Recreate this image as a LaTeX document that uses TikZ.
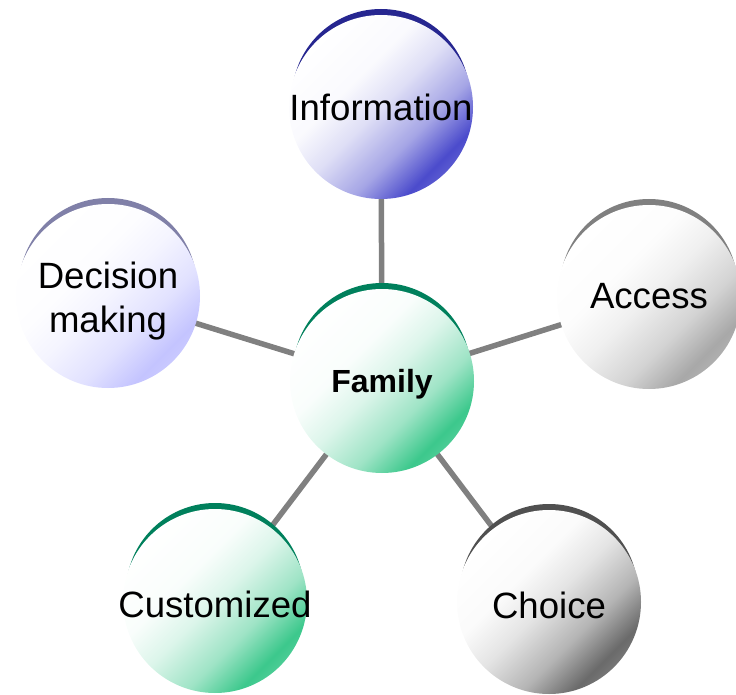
\documentclass[tikz,border=0pt]{standalone}
\usepackage{fontspec}
\setmainfont{Liberation Sans}
\usetikzlibrary{calc}
\pgfdeclarelayer{bg}
\pgfdeclarelayer{mid}
\pgfsetlayers{bg,mid,main}

\definecolor{infoC}{HTML}{4B4BCC}
\definecolor{infoR}{HTML}{262690}
\definecolor{famC}{HTML}{3CC88C}
\definecolor{famR}{HTML}{00805C}
\definecolor{choC}{HTML}{6A6A6A}
\definecolor{choR}{HTML}{505050}
\definecolor{accC}{HTML}{A8A8A8}
\definecolor{accR}{HTML}{808080}
\definecolor{decC}{HTML}{C4C4FF}
\definecolor{decR}{HTML}{8080A8}
\definecolor{linkC}{HTML}{808080}

\newcommand{\mkshade}[2]{%
  \pgfdeclarehorizontalshading{#1}{100bp}{color(0bp)=(white); color(25bp)=(white);
    color(40bp)=(#2!3!white); color(50bp)=(#2!18!white); color(62bp)=(#2!50!white);
    color(72bp)=(#2); color(75bp)=(#2!92!white); color(100bp)=(#2!92!white)}}
\mkshade{shInfo}{infoC}
\mkshade{shFam}{famC}
\mkshade{shCho}{choC}
\mkshade{shAcc}{accC}
\mkshade{shDec}{decC}

\newcommand{\bubtext}[1]{\makebox[0pt]{\begin{tabular}[t]{@{}c@{}}#1\end{tabular}}}

\tikzset{
  bubble/.style={circle, minimum size=184pt, inner sep=0pt, outer sep=0pt,
    shade, shading angle=-45, text height=28pt, text depth=0pt,
    font=\fontsize{36.6}{44}\selectfont},
  rim/.style={fill=#1},
  link/.style={draw=linkC, line width=5.5pt}
}

\begin{document}
\begin{tikzpicture}[x=1pt,y=-1pt]
\useasboundingbox (0,0) rectangle (736,695);

\node[bubble, shading=shFam, text height=22pt, font=\fontsize{32}{38}\selectfont\bfseries] (fam) at (382,381) {\bubtext{Family}};
\node[bubble, shading=shInfo] (info) at (381,107) {\bubtext{Information}};
\node[bubble, shading=shAcc, text height=22pt] (acc) at (649,297) {\bubtext{Access}};
\node[bubble, shading=shCho, text height=32pt] (cho) at (549,602) {\bubtext{Choice}};
\node[bubble, shading=shFam, text height=32pt] (cus) at (215,601) {\bubtext{Customized}};
\node[bubble, shading=shDec, text height=0pt, text depth=16pt] (dec) at (108,296) {\bubtext{Decision\\making}};

\begin{pgfonlayer}{mid}
  \fill[rim=famR] ([yshift=9pt]fam.center) circle (89pt);
  \fill[rim=infoR] ([yshift=9pt]info.center) circle (89pt);
  \fill[rim=accR] ([yshift=9pt]acc.center) circle (89pt);
  \fill[rim=choR] ([yshift=9pt]cho.center) circle (89pt);
  \fill[rim=famR] ([yshift=9pt]cus.center) circle (89pt);
  \fill[rim=decR] ([yshift=9pt]dec.center) circle (89pt);
\end{pgfonlayer}

\begin{pgfonlayer}{bg}
  \draw[link] (fam.center) -- (info.center);
  \draw[link] (fam.center) -- (acc.center);
  \draw[link] (fam.center) -- (cho.center);
  \draw[link] (fam.center) -- (cus.center);
  \draw[link] (fam.center) -- (dec.center);
\end{pgfonlayer}
\end{tikzpicture}
\end{document}
